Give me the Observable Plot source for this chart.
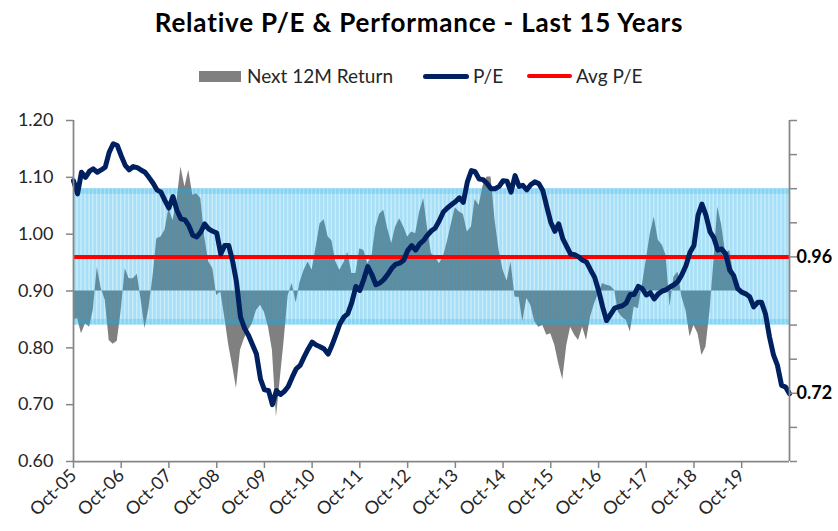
<!DOCTYPE html>
<html><head><meta charset="utf-8">
<script src="https://cdn.jsdelivr.net/npm/d3@7"></script>
<script src="https://cdn.jsdelivr.net/npm/@observablehq/plot@0.6"></script>
<style>
body{margin:0;background:#fff;font-family:Lato,"Open Sans",sans-serif;}
#wrap{position:relative;width:838px;height:531px;overflow:hidden;}
#title{position:absolute;top:7px;left:0;width:838px;text-align:center;font-weight:bold;font-size:26px;letter-spacing:0.8px;line-height:30px;color:#000;}
.lg{position:absolute;font-size:19px;color:#262626;top:64px;line-height:24px;white-space:nowrap;}
.sw{position:absolute;}
#chart{position:absolute;top:100px;left:0;}
</style></head><body>
<div id="wrap">
<div id="title">Relative P/E &amp; Performance - Last 15 Years</div>
<div class="sw" style="left:199px;top:71px;width:42px;height:11px;background:#808080"></div>
<div class="lg" style="left:247px">Next 12M Return</div>
<div class="sw" style="left:423px;top:74px;width:46px;height:5px;background:#002060;border-radius:2.5px"></div>
<div class="lg" style="left:473px">P/E</div>
<div class="sw" style="left:527px;top:74px;width:45px;height:4px;background:#ff0000;border-radius:2px"></div>
<div class="lg" style="left:576px">Avg P/E</div>
<div id="chart"></div>
</div>
<script>
// First month of the series: October 2005, monthly points
const startYear = 2005, startMonth = 9;

// Relative P/E, monthly Oct-05 .. Oct-20
const peValues = [
1.094,1.071,1.109,1.100,1.111,1.115,1.109,1.113,1.118,1.144,1.159,1.156,
1.138,1.121,1.113,1.119,1.117,1.113,1.109,1.100,1.090,1.078,1.074,1.059,
1.046,1.066,1.042,1.027,1.025,1.015,0.998,0.995,1.004,1.018,1.009,1.005,
1.002,0.965,0.980,0.980,0.951,0.916,0.854,0.835,0.822,0.806,0.789,0.745,
0.726,0.725,0.700,0.725,0.718,0.723,0.732,0.748,0.763,0.769,0.784,0.798,
0.810,0.805,0.802,0.798,0.789,0.804,0.823,0.842,0.854,0.860,0.880,0.908,
0.901,0.921,0.943,0.929,0.911,0.914,0.920,0.929,0.940,0.947,0.949,0.954,
0.971,0.980,0.972,0.983,0.989,0.998,1.006,1.011,1.024,1.039,1.046,1.052,
1.057,1.064,1.056,1.092,1.112,1.110,1.097,1.096,1.089,1.080,1.080,1.084,
1.094,1.093,1.074,1.103,1.084,1.086,1.078,1.087,1.092,1.089,1.077,1.048,
1.021,1.005,1.018,0.992,0.978,0.965,0.964,0.960,0.954,0.951,0.937,0.924,
0.901,0.872,0.848,0.859,0.870,0.872,0.874,0.879,0.894,0.894,0.908,0.904,
0.893,0.897,0.886,0.895,0.900,0.902,0.907,0.911,0.917,0.929,0.945,0.968,
0.980,1.033,1.053,1.033,1.004,0.994,0.972,0.974,0.965,0.937,0.927,0.904,
0.898,0.895,0.890,0.872,0.880,0.880,0.859,0.819,0.787,0.769,0.734,0.731,
0.719];

// Next 12M return (%), secondary axis, monthly Oct-05 .. Sep-19
const returnValues = [
-8.6,-8.1,-12.5,-9.6,-10.6,-5.7,7.0,0.7,-2.7,-14.5,-15.6,-14.7,
-5.7,6.5,3.6,3.6,4.9,-2.2,-11.0,-5.2,4.1,15.3,15.8,17.8,
24.1,20.7,26.1,36.4,30.5,35.4,28.1,28.5,27.1,15.8,8.5,6.5,
-1.3,-0.3,-7.6,-15.9,-22.3,-28.6,-17.4,-14.0,-11.5,-9.6,-5.7,-4.2,
-6.2,-10.6,-17.4,-37.0,-25.2,-14.5,-1.3,2.2,-3.5,2.6,6.1,8.5,
6.1,12.9,19.7,20.9,15.8,14.7,8.5,6.1,8.2,11.4,5.1,5.1,
12.4,11.9,8.0,10.0,18.8,22.5,23.7,18.3,13.9,18.8,21.2,18.8,
15.8,17.3,16.8,23.2,27.1,18.8,10.9,10.0,8.0,10.0,14.4,19.7,
24.4,23.2,22.5,17.3,18.8,26.8,25.1,30.7,33.4,33.4,20.7,11.9,
6.1,2.9,8.5,-1.8,-1.8,-9.0,-2.2,-4.2,-9.0,-10.6,-10.1,-13.0,
-12.5,-15.9,-21.3,-26.0,-15.9,-10.6,-13.0,-14.5,-10.6,-14.5,-7.6,-3.7,
-0.8,2.2,1.7,1.4,0.2,-6.2,-7.8,-8.6,-12.0,-4.7,-5.2,1.7,
9.0,16.8,21.7,14.9,13.4,10.5,-4.7,4.1,5.6,-1.8,-5.7,-13.5,
-10.1,-12.5,-18.9,-16.4,-5.7,8.0,24.6,19.3,10.9,11.9,5.1,2.2];

const avgPE = 0.96;
const bandLow = 0.84, bandHigh = 1.08;          // avg ± 1 std dev
const yTickValues = [0.6, 0.7, 0.8, 0.9, 1.0, 1.1, 1.2];
const rightTickValues = [0.60,0.66,0.72,0.78,0.84,0.90,0.96,1.02,1.08,1.14,1.20];
const xTickLabels = ["Oct-05","Oct-06","Oct-07","Oct-08","Oct-09","Oct-10","Oct-11","Oct-12","Oct-13","Oct-14","Oct-15","Oct-16","Oct-17","Oct-18","Oct-19"];
// secondary axis (-50%..+50%) mapped onto the primary 0.60..1.20 span
const returnBaseline = 0.90, returnPerPct = 0.006;

const dates = peValues.map((_, i) => new Date(Date.UTC(startYear, startMonth + i, 1)));
const pe = peValues.map((v, i) => ({date: dates[i], v}));
const ret = returnValues.map((r, i) => ({date: dates[i], y: returnBaseline + r * returnPerPct}));
const xTicks = xTickLabels.map((_, i) => new Date(Date.UTC(startYear + i, startMonth, 1)));
const xStart = dates[0], xEnd = dates[dates.length - 1];
const bandBars = dates.slice(0, -1).map((d, i) => ({a: d, b: dates[i + 1]}));

const axisColor = "#868686", textColor = "#262626";

const chart = Plot.plot({
  width: 838, height: 431,
  marginTop: 20, marginBottom: 70, marginLeft: 73, marginRight: 49,
  style: {fontFamily: "Lato, 'Open Sans', sans-serif", fontSize: "18px", color: textColor, background: "transparent", overflow: "visible"},
  x: {type: "utc", domain: [xStart, xEnd]},
  y: {domain: [0.6, 1.2]},
  marks: [
    Plot.areaY(ret, {x: "date", y1: () => returnBaseline, y2: "y", fill: "#808080"}),
    Plot.rect([0], {x1: () => xStart, x2: () => xEnd, y1: () => bandLow, y2: () => bandHigh, fill: "#12ACEA", fillOpacity: 0.22}),
    Plot.rect(bandBars, {x1: "a", x2: "b", y1: () => bandLow, y2: () => bandHigh, fill: "#12ACEA", fillOpacity: 0.2, insetLeft: 0.7, insetRight: 0.7}),
    Plot.rect([0], {x1: () => xStart, x2: () => xEnd, y1: () => bandHigh - 0.01, y2: () => bandHigh, fill: "#12ACEA", fillOpacity: 0.2}),
    Plot.rect([0], {x1: () => xStart, x2: () => xEnd, y1: () => bandLow, y2: () => bandLow + 0.01, fill: "#12ACEA", fillOpacity: 0.2}),
    Plot.ruleY([avgPE], {x1: () => xStart, x2: () => xEnd, stroke: "#FF0000", strokeWidth: 4}),
    Plot.line(pe, {x: "date", y: "v", stroke: "#002060", strokeWidth: 5, strokeLinejoin: "round", strokeLinecap: "round"}),
    Plot.ruleX([xStart], {stroke: axisColor, strokeWidth: 1.75}),
    Plot.ruleX([xEnd], {stroke: axisColor, strokeWidth: 1.75}),
    Plot.ruleY([0.6], {stroke: axisColor, strokeWidth: 1.75}),
    Plot.axisY({anchor: "left", ticks: yTickValues, tickFormat: d3.format(".2f"), tickSize: 7, tickPadding: 13, fontSize: 18, stroke: axisColor, strokeWidth: 1.5, fill: textColor, label: null}),
    Plot.axisY({anchor: "right", ticks: rightTickValues, tickFormat: () => "", tickSize: 7, stroke: axisColor, strokeWidth: 1.5, label: null}),
    Plot.axisX({ticks: xTicks, tickFormat: d => xTickLabels[d.getUTCFullYear() - startYear], tickRotate: -45, tickSize: 7, tickPadding: 4, fontSize: 18, stroke: axisColor, strokeWidth: 1.5, fill: textColor, label: null}),
    Plot.text([avgPE], {x: () => xEnd, y: d => d, text: d => d.toFixed(2), dx: 7, textAnchor: "start", fontWeight: "bold", fontSize: 18, fill: "#000"}),
    Plot.text([pe[pe.length - 1]], {x: "date", y: d => +d.v.toFixed(2), text: d => d.v.toFixed(2), dx: 7, textAnchor: "start", fontWeight: "bold", fontSize: 18, fill: "#000"})
  ]
});
document.getElementById("chart").appendChild(chart);
</script>
</body></html>
